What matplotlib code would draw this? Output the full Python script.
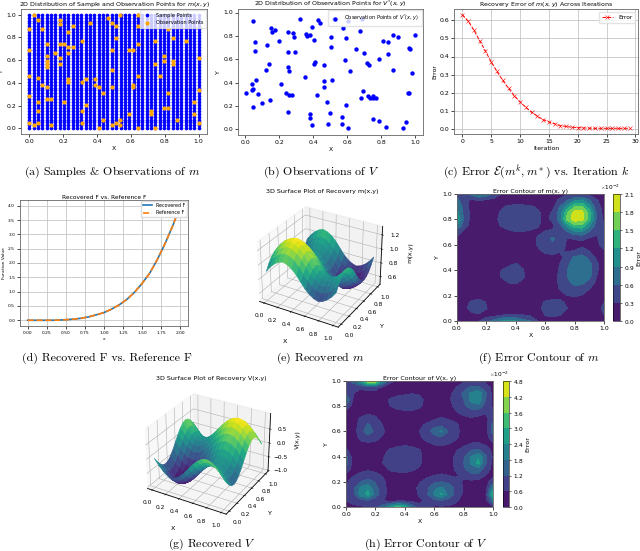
from matplotlib import pyplot as plt
from matplotlib.ticker import ScalarFormatter
import numpy as np

W, H = 640, 551

sample_grid = np.linspace(0, 1, 40)

obs_m_x = [0, 0, 0, 0, 0, .026, .026, .051, .051, .051, .051, .051, .077, .077,
	.103, .103, .103, .103, .103, .103, .103, .128, .128, .154, .18, .18, .18, .18, .18,
	.205, .205, .23, .23, .23, .23, .23, .256, .256, .308, .308, .308, .308, .333, .333,
	.359, .385, .385, .41, .41, .436, .436, .462, .487, .487, .487, .487, .487,
	.513, .513, .513, .538, .538, .538, .59, .59, .615, .615, .615,
	.64, .64, .64, .64, .64, .718, .718, .744, .744, .744, .77, .795, .795, .795,
	.82, .82, .82, .846, .846, .846, .872, .923, .974, .974, 1, 1, 1]
obs_m_y = [.87, .69, .46, .28, .05, 1, .026, .95, .44, .23, .154, .05, .87, .385,
	.744, .64, .59, .564, .54, .36, .256, .256, .026, .667, .95, .92, .744, .615, .564,
	.744, .23, .846, .718, .667, .436, .41, .897, .718, .77, .41, .154, .05, .436, .205,
	.923, .436, .385, .36, 0, .31, .077, .974, .923, .69, .513, .36, .026,
	.897, .795, .05, 1, .077, .026, .128, .69, .69, .385, .36,
	1, .897, .744, .46, 0, .154, .128, .77, .564, 0, .46, .64, .59, .18,
	.87, .31, .18, .795, .59, .564, .077, .77, .23, .128, .615, .333, .05]

obs_v_x = [.043, .322, .426, .441, .525, .607, .686, .39, .152, .174, .156, .252, .281, .287,
	.355, .365, .381, .404, .504, .576, .596, .674, .057, .059, .127, .199, .252, .295,
	.506, .65, .699, .809, .84, .873, .9, .998, .963, .971, .842, .791, .586, .717, .729,
	.408, .402, .463, .137, .123, .254, .256, .352, .619, .869, .982, .061, .041, .045, .039,
	.006, .072, .211, .461, .508, .461, .242, .258, .275, .424, .691, .684, .725, .734,
	.752, .752, .771, .959, .967, .146, .1, .045, .48, .594, .252, .5, .381, .381, .568,
	.754, .39, .49, .568, .607, .791, .828, .932, .947]
obs_v_y = [.923, .946, .937, .914, .943, .926, .946, .88, .863, .851, .829, .831, .823, .789,
	.814, .8, .806, .766, .786, .866, .78, .843, .749, .671, .723, .757, .663, .663,
	.706, .691, .657, .757, .751, .803, .794, .809, .7, .689, .646, .6, .594, .571, .551,
	.577, .56, .546, .557, .511, .531, .497, .449, .5, .506, .48, .423, .391, .343, .34,
	.314, .3, .391, .414, .42, .363, .311, .294, .297, .297, .329, .263, .283, .271,
	.286, .266, .269, .314, .306, .251, .223, .191, .229, .206, .151, .137, .126, .097, .103,
	.091, .04, .046, .043, .014, .066, .02, .006, .06]

iterations = list(range(30))
error_m = [.63, .595, .545, .487, .43, .37, .318, .268, .225, .185, .15, .12, .093, .072, .053,
	.04, .029, .02, .015, .011, .009, .007, .006, .005, .005, .005, .005, .005, .005, .005]

f_x = [0, .1, .2, .3, .4, .5, .6, .7, .8, .9, 1.0, 1.1, 1.2, 1.3, 1.4, 1.5, 1.6, 1.7, 1.8, 1.9, 2.0]
f_values = [0, 0, 0, 0, .005, .02, .04, .07, .12, .19, .27, .39, .54, .73, .98, 1.29, 1.65, 2.13, 2.68, 3.3, 4.0]

# surface heights, rows are y = 0..1, columns x = 0..1
m_surface = np.array([
	[.9, .98, 1.04, 1.08, 1.1, 1.08, 1.04, .98, .9, .82, .76, .72, .7, .72, .76, .82, .9],
	[.98, 1.06, 1.12, 1.16, 1.18, 1.16, 1.12, 1.06, .98, .9, .84, .8, .78, .8, .84, .9, .98],
	[1.04, 1.12, 1.18, 1.22, 1.24, 1.22, 1.18, 1.12, 1.04, .96, .9, .86, .84, .86, .9, .96, 1.04],
	[1.08, 1.16, 1.22, 1.26, 1.28, 1.26, 1.22, 1.16, 1.08, 1.0, .94, .9, .88, .9, .94, 1.0, 1.08],
	[1.1, 1.18, 1.24, 1.28, 1.3, 1.28, 1.24, 1.18, 1.1, 1.02, .96, .92, .9, .92, .96, 1.02, 1.1],
	[1.08, 1.16, 1.22, 1.26, 1.28, 1.26, 1.22, 1.16, 1.08, 1.0, .94, .9, .88, .9, .94, 1.0, 1.08],
	[1.04, 1.12, 1.18, 1.22, 1.24, 1.22, 1.18, 1.12, 1.04, .96, .9, .86, .84, .86, .9, .96, 1.04],
	[.98, 1.06, 1.12, 1.16, 1.18, 1.16, 1.12, 1.06, .98, .9, .84, .8, .78, .8, .84, .9, .98],
	[.9, .98, 1.04, 1.08, 1.1, 1.08, 1.04, .98, .9, .82, .76, .72, .7, .72, .76, .82, .9],
	[.82, .9, .96, 1.0, 1.02, 1.0, .96, .9, .82, .74, .68, .64, .62, .64, .68, .74, .82],
	[.76, .84, .9, .94, .96, .94, .9, .84, .76, .68, .62, .58, .56, .58, .62, .68, .76],
	[.72, .8, .86, .9, .92, .9, .86, .8, .72, .64, .58, .54, .52, .54, .58, .64, .72],
	[.7, .78, .84, .88, .9, .88, .84, .78, .7, .62, .56, .52, .5, .52, .56, .62, .7],
	[.72, .8, .86, .9, .92, .9, .86, .8, .72, .64, .58, .54, .52, .54, .58, .64, .72],
	[.76, .84, .9, .94, .96, .94, .9, .84, .76, .68, .62, .58, .56, .58, .62, .68, .76],
	[.82, .9, .96, 1.0, 1.02, 1.0, .96, .9, .82, .74, .68, .64, .62, .64, .68, .74, .82],
	[.9, .98, 1.04, 1.08, 1.1, 1.08, 1.04, .98, .9, .82, .76, .72, .7, .72, .76, .82, .9],
])

v_surface = np.array([
	[0, -.19, -.35, -.46, -.5, -.46, -.35, -.19, 0, .19, .35, .46, .5, .46, .35, .19, 0],
	[-.19, -.38, -.54, -.65, -.69, -.65, -.54, -.38, -.19, 0, .16, .27, .31, .27, .16, 0, -.19],
	[-.35, -.54, -.7, -.81, -.85, -.81, -.7, -.54, -.35, -.16, 0, .11, .15, .11, 0, -.16, -.35],
	[-.46, -.65, -.81, -.92, -.96, -.92, -.81, -.65, -.46, -.27, -.11, 0, .04, 0, -.11, -.27, -.46],
	[-.5, -.69, -.85, -.96, -1, -.96, -.85, -.69, -.5, -.31, -.15, -.04, 0, -.04, -.15, -.31, -.5],
	[-.46, -.65, -.81, -.92, -.96, -.92, -.81, -.65, -.46, -.27, -.11, 0, .04, 0, -.11, -.27, -.46],
	[-.35, -.54, -.7, -.81, -.85, -.81, -.7, -.54, -.35, -.16, 0, .11, .15, .11, 0, -.16, -.35],
	[-.19, -.38, -.54, -.65, -.69, -.65, -.54, -.38, -.19, 0, .16, .27, .31, .27, .16, 0, -.19],
	[0, -.19, -.35, -.46, -.5, -.46, -.35, -.19, 0, .19, .35, .46, .5, .46, .35, .19, 0],
	[.19, 0, -.16, -.27, -.31, -.27, -.16, 0, .19, .38, .54, .65, .69, .65, .54, .38, .19],
	[.35, .16, 0, -.11, -.15, -.11, 0, .16, .35, .54, .7, .81, .85, .81, .7, .54, .35],
	[.46, .27, .11, 0, -.04, 0, .11, .27, .46, .65, .81, .92, .96, .92, .81, .65, .46],
	[.5, .31, .15, .04, 0, .04, .15, .31, .5, .69, .85, .96, 1, .96, .85, .69, .5],
	[.46, .27, .11, 0, -.04, 0, .11, .27, .46, .65, .81, .92, .96, .92, .81, .65, .46],
	[.35, .16, 0, -.11, -.15, -.11, 0, .16, .35, .54, .7, .81, .85, .81, .7, .54, .35],
	[.19, 0, -.16, -.27, -.31, -.27, -.16, 0, .19, .38, .54, .65, .69, .65, .54, .38, .19],
	[0, -.19, -.35, -.46, -.5, -.46, -.35, -.19, 0, .19, .35, .46, .5, .46, .35, .19, 0],
])

# contour errors in units of 1e-2, first row is y = 1.0, last is y = 0.0
err_m_rows = [
	[.5, .45, .7, .9, .8, .5, .3, .2, .2, .1, .1, .2, .2, .2, .2, .25, .25, .25, .2, .2, .2],
	[.7, .35, .25, .3, .25, .2, .15, .1, .1, .1, .1, .1, .15, .2, .35, .6, .85, .95, .65, .32, .2],
	[.9, .45, .2, .15, .15, .15, .25, .35, .4, .38, .34, .25, .2, .22, .6, 1.0, 1.5, 1.55, 1.0, .42, .2],
	[1.0, .5, .2, .1, .1, .15, .35, .45, .48, .48, .45, .36, .2, .35, .75, 1.5, 1.95, 1.95, 1.4, .55, .2],
	[1.2, .5, .2, .1, .1, .2, .38, .48, .5, .5, .45, .36, .22, .35, .75, 1.6, 1.95, 1.9, 1.35, .55, .25],
	[.9, .4, .2, .1, .1, .18, .32, .45, .48, .48, .42, .32, .22, .25, .5, 1.0, 1.4, 1.4, .95, .45, .35],
	[.45, .2, .15, .1, .1, .1, .15, .22, .28, .28, .25, .24, .32, .34, .45, .55, .8, .85, .55, .35, .45],
	[.25, .15, .15, .15, .2, .1, .1, .1, .1, .1, .15, .34, .45, .65, .48, .28, .33, .33, .28, .25, .5],
	[.15, .1, .1, .1, .15, .1, .1, .1, .1, .1, .15, .34, .48, .55, .45, .25, .15, .25, .2, .2, .45],
	[.1, .1, .1, .1, .1, .1, .1, .1, .1, .1, .1, .22, .38, .42, .32, .28, .32, .38, .3, .15, .25],
	[.15, .1, .1, .1, .1, .1, .1, .1, .1, .1, .1, .1, .15, .2, .22, .42, .65, .75, .5, .25, .15],
	[.3, .1, .1, .1, .1, .1, .1, .22, .32, .22, .1, .1, .1, .1, .3, .52, .8, .85, .68, .35, .15],
	[.2, .1, .1, .1, .1, .1, .3, .42, .45, .32, .1, .1, .1, .1, .36, .6, .85, .88, .72, .35, .1],
	[.15, .1, .1, .1, .1, .1, .32, .42, .45, .34, .1, .1, .1, .1, .38, .6, .82, .85, .68, .3, .1],
	[.2, .1, .1, .1, .1, .1, .15, .3, .33, .22, .1, .1, .1, .1, .38, .55, .65, .65, .5, .22, .1],
	[.1, .1, .1, .1, .1, .1, .1, .1, .1, .1, .1, .1, .1, .1, .32, .46, .52, .48, .3, .1, .1],
	[.3, .1, .1, .1, .1, .1, .1, .1, .1, .1, .1, .1, .1, .1, .15, .3, .34, .28, .1, .1, .1],
	[.2, .15, .36, .42, .28, .1, .1, .1, .1, .1, .1, .18, .33, .42, .38, .22, .1, .1, .1, .15, .3],
	[.1, .22, .42, .48, .32, .1, .1, .1, .1, .1, .1, .22, .4, .45, .42, .3, .1, .1, .1, .15, .4],
	[.1, .1, .24, .28, .15, .15, .25, .3, .3, .28, .22, .16, .32, .38, .32, .15, .1, .1, .1, .1, .3],
	[.15, .1, .2, .3, .5, .7, .9, 1.0, .9, .7, .6, .3, .2, .15, .15, .1, .1, .1, .1, .1, .15],
]

err_v_rows = [
	[.9, 1.5, 2.6, 4.3, 4.2, 2.2, .8, .4, .3, .3, .3, .3, .3, .4, .4, .5, .5, .5, .5, .5, .5],
	[.9, .7, .7, 1.0, .9, .5, .3, .3, .3, .3, .3, .3, .3, .3, .3, .6, 1.0, 1.3, 1.3, .9, .4],
	[1.2, .6, .3, .3, .3, .3, .3, .4, .5, .6, .5, .3, .3, .3, .4, .9, 1.3, 1.9, 2.3, 1.3, .4],
	[1.9, .5, .3, .3, .3, .3, .7, .95, 1.0, 1.05, .9, .3, .3, .3, .5, .95, 1.2, 2.0, 2.4, 1.2, .5],
	[1.0, .4, .3, .3, .3, .3, .6, .85, 1.0, 1.0, .75, .3, .3, .3, .35, .8, 1.1, 1.4, 1.5, 1.0, .5],
	[.4, .3, .3, .5, .45, .3, .3, .35, .4, .4, .3, .3, .3, .3, .3, .55, .8, .95, .9, .65, .7],
	[.3, .3, .7, .9, .7, .4, .3, .3, .3, .3, .3, .3, .55, .7, .55, .35, .4, .5, .4, .4, 1.0],
	[.3, .3, .85, 1.3, .95, .6, .3, .3, .3, .3, .45, .75, 1.0, 1.1, 1.0, .75, .3, .3, .3, .3, 1.4],
	[.3, .35, .9, 1.6, 1.0, .7, .3, .3, .3, .3, .6, .9, 1.5, 1.9, 1.1, .8, .3, .3, .3, .3, 1.4],
	[.3, .3, .75, .9, .8, .5, .3, .3, .3, .3, .5, .85, 1.0, 1.1, .95, .7, .3, .3, .3, .3, 1.0],
	[.3, .3, .45, .5, .45, .3, .3, .4, .5, .4, .3, .45, .65, .7, .6, .35, .4, .65, .7, .5, .5],
	[.7, .3, .3, .3, .3, .4, .7, .85, .9, .85, .65, .3, .3, .3, .3, .55, .9, 1.2, 1.3, 1.0, .4],
	[1.4, .3, .3, .3, .3, .55, .8, .95, 1.0, .9, .75, .3, .3, .3, .3, .75, 1.1, 1.8, 2.3, 1.3, .5],
	[1.5, .3, .3, .3, .3, .6, .85, .95, 1.0, .9, .7, .3, .3, .3, .3, .8, 1.2, 1.9, 2.6, 1.3, .4],
	[1.0, .3, .4, .5, .4, .35, .7, .8, .85, .7, .5, .3, .3, .3, .3, .7, 1.1, 1.5, 1.6, .9, .4],
	[.4, .55, .8, .95, .8, .55, .3, .35, .4, .35, .3, .45, .6, .7, .6, .5, .75, 1.0, 1.0, .6, .4],
	[.5, .85, 1.2, 1.4, 1.15, .75, .3, .3, .3, .3, .55, .85, 1.1, 1.2, 1.1, .85, .5, .45, .4, .3, 1.0],
	[.6, 1.0, 2.0, 2.3, 1.4, .85, .3, .3, .3, .35, .75, 1.05, 1.7, 1.9, 1.5, 1.0, .55, .3, .3, .35, 2.0],
	[.7, 1.0, 2.1, 2.6, 1.5, .85, .3, .3, .3, .3, .7, 1.1, 1.9, 2.5, 1.6, .95, .5, .3, .3, .5, 3.0],
	[.6, .75, 1.0, 1.1, .9, .65, .4, .5, .5, .4, .45, .8, 1.05, 1.2, 1.0, .7, .3, .3, .3, .4, 1.7],
	[.5, .5, .5, .6, 1.0, 1.5, 2.4, 3.2, 2.8, 1.6, .8, .6, .5, .5, .5, .4, .4, .4, .4, .4, .6],
]

captions = [
	(112, 172, r'(a) Samples & Observations of $m$'),
	(321, 172, r'(b) Observations of $V$'),
	(536, 172, r'(c) Error $\mathcal{E}(m^k, m^*)$ vs. Iteration $k$'),
	(107, 358, '(d) Recovered F vs. Reference F'),
	(320, 358, r'(e) Recovered $m$'),
	(539, 358, r'(f) Error Contour of $m$'),
	(212, 544, r'(g) Recovered $V$'),
	(426, 544, r'(h) Error Contour of $V$'),
]

plt.rcParams['mathtext.fontset'] = 'cm'
plt.rcParams['axes.linewidth'] = 0.6
plt.rcParams['xtick.major.width'] = 0.5
plt.rcParams['ytick.major.width'] = 0.5
plt.rcParams['xtick.major.size'] = 2
plt.rcParams['ytick.major.size'] = 2
plt.rcParams['xtick.major.pad'] = 1.5
plt.rcParams['ytick.major.pad'] = 1.5
plt.rcParams['axes.labelpad'] = 1.5
plt.rcParams['axes.titlepad'] = 0.6


def px_axes(fig, left, top, right, bottom, **kw):
	return fig.add_axes([left/W, 1 - bottom/H, (right-left)/W, (bottom-top)/H], **kw)


def style_2d(ax, title, fs=4.4, xlabel='X', ylabel='Y'):
	ax.set_title(title, fontsize=fs+0.1, math_fontfamily='dejavusans')
	ax.set_xlabel(xlabel, fontsize=fs)
	ax.set_ylabel(ylabel, fontsize=fs)
	ax.tick_params(labelsize=fs)
	for s in ax.spines.values():
		s.set_color('#666666')


def plot_surface(ax, z, title, zlabel, title_x):
	grid = np.linspace(0, 1, z.shape[0])
	X, Y = np.meshgrid(grid, grid)
	colors = plt.cm.viridis((z - z.min())/(z.max() - z.min()))
	ax.plot_surface(X, Y, z, facecolors=colors, linewidth=0.4, shade=False, rcount=17, ccount=17)
	ax.set_title(title, fontsize=4.6, pad=2.5, x=title_x)
	ax.set_xlabel('X', fontsize=4.6, labelpad=-7)
	ax.set_ylabel('Y', fontsize=4.6, labelpad=-7)
	ax.set_zlabel(zlabel, fontsize=4.6, labelpad=-8)
	ax.tick_params(labelsize=4.2, pad=-2.5)
	ax.set_xticks([0, .2, .4, .6, .8, 1.0])
	ax.set_yticks([0, .2, .4, .6, .8, 1.0])
	for a in (ax.xaxis, ax.yaxis, ax.zaxis):
		a._axinfo['grid']['linewidth'] = 0.4
		a._axinfo['axisline']['linewidth'] = 0.4
		a._axinfo['tick']['linewidth'] = {True: 0.4, False: 0.3}


def plot_contour(fig, rect, cbar_rect, rows, levels, title):
	ax = px_axes(fig, *rect)
	err = np.array(rows[::-1])*0.01
	grid = np.linspace(0, 1, err.shape[0])
	cf = ax.contourf(grid, grid, err, levels=levels, cmap='viridis', extend='neither')
	style_2d(ax, title)
	cax = px_axes(fig, *cbar_rect)
	cb = fig.colorbar(cf, cax=cax)
	cb.set_ticks(levels)
	fmt = ScalarFormatter(useMathText=True)
	fmt.set_powerlimits((0, 0))
	cb.formatter = fmt
	cb.update_ticks()
	cb.ax.tick_params(labelsize=4.2, size=1.5, width=0.4)
	cb.ax.yaxis.get_offset_text().set_fontsize(4.2)
	cb.set_label('Error', fontsize=4.6, labelpad=1)
	cb.outline.set_linewidth(0.4)


def dejavu_legend(leg):
	for t in leg.get_texts():
		t.set_math_fontfamily('dejavusans')


fig = plt.figure(figsize=(W/100, H/100), dpi=100)

# (a)
ax = px_axes(fig, 21, 9, 207, 134)
sx, sy = np.meshgrid(sample_grid, sample_grid)
ax.scatter(sx.ravel(), sy.ravel(), s=7, c='blue', linewidths=0, label='Sample Points')
ax.scatter(obs_m_x, obs_m_y, s=9, c='orange', linewidths=0, label='Observation Points')
style_2d(ax, r'2D Distribution of Sample and Observation Points for $m(x, y)$')
ax.legend(loc='upper right', fontsize=3.6, borderpad=0.5, labelspacing=0.6, fancybox=False, edgecolor='#dddddd', framealpha=0.8, borderaxespad=0.2)

# (b)
ax = px_axes(fig, 238, 9, 423, 135)
ax.scatter(obs_v_x, obs_v_y, s=10, c='blue', linewidths=0, label=r'Observation Points of $V^{*}(x, y)$')
style_2d(ax, r'2D Distribution of Observation Points for $V^{*}(x, y)$')
ax.set_ylim(-.05, 1.03)
dejavu_legend(ax.legend(loc='upper right', fontsize=3.6, borderpad=0.5, fancybox=True, edgecolor='#dddddd', framealpha=0.8, borderaxespad=0.3))

# (c)
ax = px_axes(fig, 454, 9, 638, 134)
ax.plot(iterations, error_m, color='red', linestyle='--', marker='x', markersize=2.2, linewidth=0.7, markeredgewidth=0.4, label='Error')
style_2d(ax, r'Recovery Error of $m(x, y)$ Across Iterations', xlabel='Iteration', ylabel='Error')
ax.grid(True, color='#bbbbbb', linewidth=0.5)
ax.legend(loc='upper right', fontsize=4.2, borderpad=0.5, edgecolor='#dddddd')

# (d)
ax = px_axes(fig, 20, 200, 188, 326)
ax.plot(f_x, f_values, color='tab:blue', linewidth=1.2, label='Recovered F')
ax.plot(f_x, f_values, color='tab:orange', linestyle='--', linewidth=1.2, label='Reference F')
style_2d(ax, 'Recovered F vs. Reference F', fs=3.2, xlabel='x', ylabel='Function Value')
ax.set_title('Recovered F vs. Reference F', fontsize=4.2, pad=1)
ax.grid(True, color='#bbbbbb', linewidth=0.5)
ax.legend(loc='upper right', fontsize=3.4, borderpad=0.4, edgecolor='#dddddd', borderaxespad=0.2, framealpha=1)

# (e)
ax = px_axes(fig, 237.5, 196, 400.5, 336, projection='3d')
plot_surface(ax, m_surface, '3D Surface Plot of Recovery m(x,y)', 'm(x,y)', 0.525)
ax.set_zticks([.6, .8, 1.0, 1.2])

# (f)
plot_contour(fig, (457, 194, 604, 321), (613, 194, 620, 321), err_m_rows,
	[0, .003, .006, .009, .012, .015, .018, .021], 'Error Contour of m(x, y)')

# (g)
ax = px_axes(fig, 125.5, 383, 288.5, 523, projection='3d')
plot_surface(ax, v_surface, '3D Surface Plot of Recovery V(x,y)', 'V(x,y)', 0.53)
ax.set_zticks([-1.0, -.5, 0, .5])

# (h)
plot_contour(fig, (346, 381, 493, 507), (503, 381, 509, 507), err_v_rows,
	[0, .006, .012, .018, .024, .03, .036, .042, .048], 'Error Contour of V(x, y)')

for x, y, text in captions:
	fig.text(x/W, 1 - y/H, text, family='cmr10', fontsize=8.6, ha='center', va='center')

fig.savefig('out.png', dpi=100)
plt.close(fig)
